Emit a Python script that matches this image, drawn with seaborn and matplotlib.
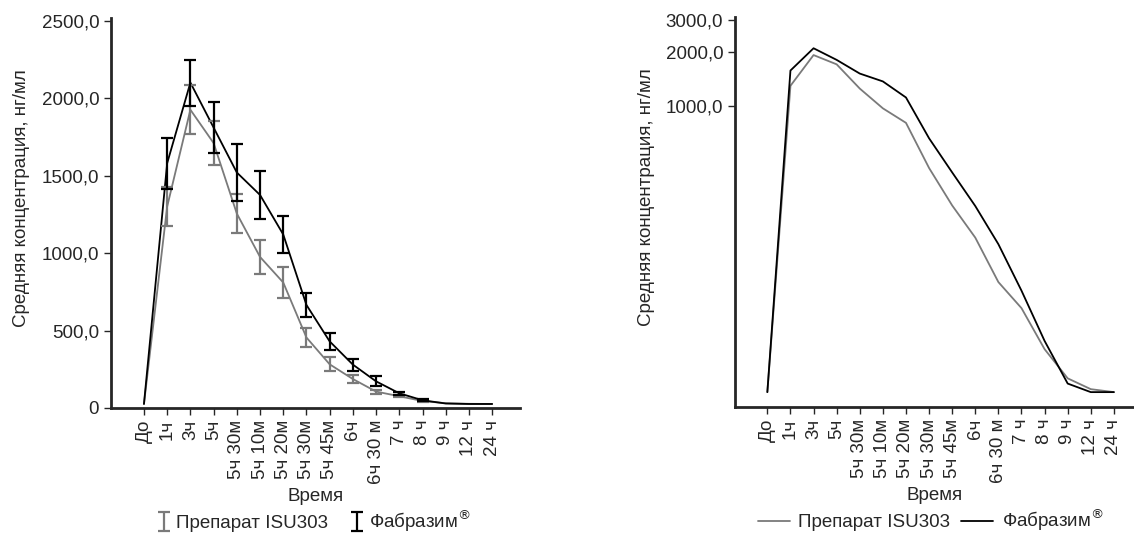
import numpy as np
import pandas as pd
import matplotlib
matplotlib.use("Agg")
import matplotlib.pyplot as plt
import seaborn as sns

# time points (labels as printed in the source figure)
time_labels = ["До", "1ч", "3ч", "5ч", "5ч 30м", "5ч 10м", "5ч 20м", "5ч 30м",
               "5ч 45м", "6ч", "6ч 30 м", "7 ч", "8 ч", "9 ч", "12 ч", "24 ч"]

isu303_mean = [26, 1300, 1925, 1710, 1255, 975, 810, 455, 282, 187, 106, 76, 45, 31, 27, 26]
isu303_err = [0, 125, 157, 141, 127, 110, 98, 61, 45, 27, 13, 8, 5, 0, 0, 0]

fabrazyme_mean = [26, 1580, 2100, 1810, 1520, 1375, 1120, 665, 430, 280, 172, 95, 50, 29, 26, 26]
fabrazyme_err = [0, 165, 148, 165, 182, 157, 118, 80, 55, 39, 33, 11, 5, 0, 0, 0]

names = ["Препарат ISU303", "Фабразим$^{®}$"]
colors = {names[0]: "#7a7a7a", names[1]: "#000000"}

x = np.arange(len(time_labels))
df = pd.DataFrame({
    "t": np.concatenate([x, x]),
    "conc": isu303_mean + fabrazyme_mean,
    "err": isu303_err + fabrazyme_err,
    "drug": [names[0]] * len(x) + [names[1]] * len(x),
})

sns.set_style("ticks")
plt.rcParams["font.family"] = ["Liberation Sans", "DejaVu Sans"]
plt.rcParams["font.size"] = 13.5

fig = plt.figure(figsize=(11.34, 5.34), dpi=100)
ax1 = fig.add_axes([111 / 1134, 126 / 534, 409 / 1134, 390 / 534])
ax2 = fig.add_axes([735 / 1134, 127 / 534, 399 / 1134, 390 / 534])

# left: linear with error bars
sns.lineplot(data=df, x="t", y="conc", hue="drug", palette=colors, ax=ax1,
             legend=False, linewidth=1.3, estimator=None)
handles = []
for name in names:
    d = df[(df.drug == name) & (df.err > 0)]
    eb = ax1.errorbar(d.t, d.conc, yerr=d.err, fmt="none", ecolor=colors[name],
                      elinewidth=1.6, capsize=4, capthick=1.6)
    handles.append(eb)

ax1.set_ylim(0, 2517)
ax1.set_xlim(-1.42, 16.2)
ax1.set_yticks([0, 500, 1000, 1500, 2000, 2500])
ax1.set_yticklabels(["0", "500,0", "1000,0", "1500,0", "2000,0", "2500,0"])
ax1.legend(handles, names, loc="center", bbox_to_anchor=(0.5, -0.29), ncol=2,
           frameon=False, handlelength=0.4, columnspacing=1.3, handletextpad=0.45)

# right: log scale, lines only
sns.lineplot(data=df, x="t", y="conc", hue="drug", palette=colors, ax=ax2,
             linewidth=1.3, estimator=None)
ax2.set_yscale("log")
ax2.set_ylim(21.5, 3130)
ax2.set_xlim(-1.4, 15.87)
ax2.set_yticks([1000, 2000, 3000])
ax2.set_yticklabels(["1000,0", "2000,0", "3000,0"])
ax2.yaxis.set_minor_locator(matplotlib.ticker.NullLocator())
ax2.legend(loc="center", bbox_to_anchor=(0.49, -0.29), ncol=2, frameon=False,
           handlelength=1.7, columnspacing=0.6, handletextpad=0.45, title=None)

for ax, ylx in ((ax1, -0.198), (ax2, -0.2005)):
    ax.set_xticks(x)
    ax.set_xticklabels(time_labels, rotation=90)
    sns.despine(ax=ax)
    for s in ("left", "bottom"):
        ax.spines[s].set_linewidth(2)
    ax.tick_params(axis="both", length=5, width=1, labelsize=13.5)
    ax.set_xlabel("Время", fontsize=13.5)
    ax.set_ylabel("Средняя концентрация, нг/мл", fontsize=13.5)
    ax.xaxis.set_label_coords(0.5, -0.205)
    ax.yaxis.set_label_coords(ylx, 0.538)

fig.savefig("out.png", dpi=100)
